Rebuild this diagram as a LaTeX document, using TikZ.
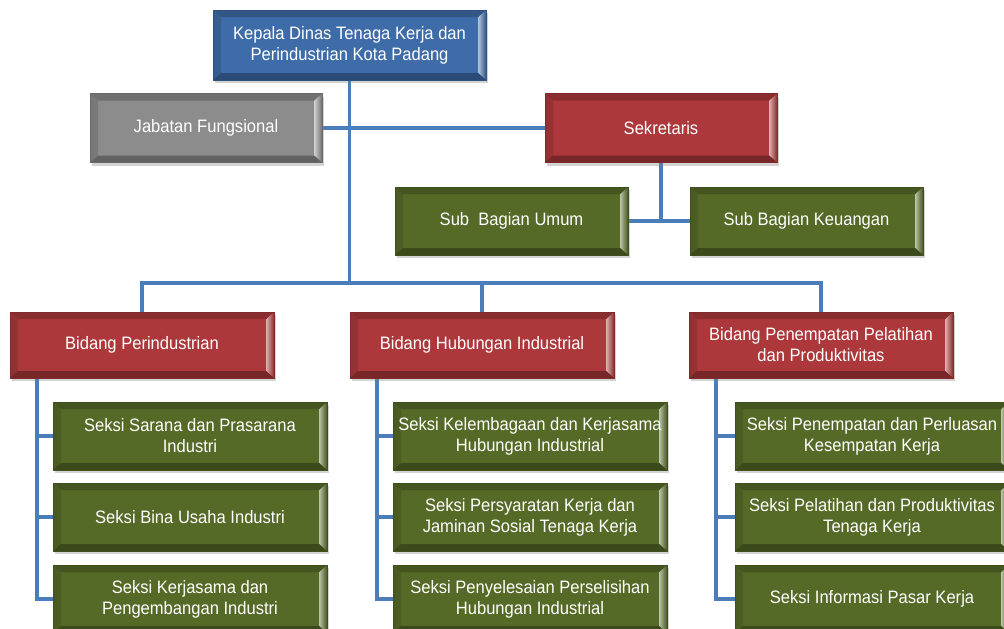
\documentclass[tikz,border=0pt]{standalone}
\usepackage{fontspec}
\setmainfont{Liberation Sans}[FakeStretch=0.92]
\usetikzlibrary{shadows,calc}
\definecolor{cblue}{HTML}{3E6CA8}
\definecolor{cgray}{HTML}{8C8C8C}
\definecolor{cred}{HTML}{AC383B}
\definecolor{cgreen}{HTML}{566A27}
\definecolor{linec}{HTML}{4A7DBA}
\newcommand\boxfont{\fontsize{18}{21}\selectfont}
\pgfdeclarelayer{bg}
\pgfsetlayers{bg,main}
\tikzset{
  conn/.style={draw=linec, line width=3.5pt},
  box/.style={fill=#1, draw=#1!75!black, line width=0.5pt, inner sep=0pt,
    text=white, align=center, font=\boxfont,
    drop shadow={shadow xshift=1.5pt, shadow yshift=-3pt, opacity=0.35},
    path picture={
      \shade[left color=#1!85!black, right color=#1!35!white]
        (path picture bounding box.north west) -- (path picture bounding box.south west)
        -- ([xshift=8pt,yshift=7pt]path picture bounding box.south west)
        -- ([xshift=8pt,yshift=-7pt]path picture bounding box.north west) -- cycle;
      \shade[left color=#1!40!white, right color=#1!80!black]
        (path picture bounding box.north east) -- (path picture bounding box.south east)
        -- ([xshift=-8pt,yshift=7pt]path picture bounding box.south east)
        -- ([xshift=-8pt,yshift=-7pt]path picture bounding box.north east) -- cycle;
      \fill[#1!80!black]
        (path picture bounding box.north west) -- (path picture bounding box.north east)
        -- ([xshift=-8pt,yshift=-7pt]path picture bounding box.north east)
        -- ([xshift=8pt,yshift=-7pt]path picture bounding box.north west) -- cycle;
      \fill[#1!70!black]
        (path picture bounding box.south west) -- (path picture bounding box.south east)
        -- ([xshift=-8pt,yshift=7pt]path picture bounding box.south east)
        -- ([xshift=8pt,yshift=7pt]path picture bounding box.south west) -- cycle;
    }},
  topbox/.style={box=cblue, minimum width=273pt, minimum height=70pt},
  sidebox/.style={box=#1, minimum width=232pt, minimum height=69pt},
  subbox/.style={box=cgreen, minimum width=233pt, minimum height=68pt},
  bidbox/.style={box=cred, minimum width=264pt, minimum height=66pt},
  seksibox/.style={box=cgreen, minimum width=274pt, minimum height=68pt},
}
\begin{document}
\begin{tikzpicture}[x=1pt,y=-1pt]
\useasboundingbox (0,0) rectangle (1004,629);

\node[topbox] (head) at (349.5,45) {Kepala Dinas Tenaga Kerja dan\\Perindustrian Kota Padang};
\node[sidebox=cgray] (jf) at (206,128) {Jabatan Fungsional};
\node[sidebox=cred] (sek) at (661,128) {Sekretaris};
\node[subbox] (sbu) at (511.5,221) {Sub\ \ Bagian Umum};
\node[subbox] (sbk) at (806.5,221) {Sub Bagian Keuangan};

\node[bidbox] (b1) at (142,345) {Bidang Perindustrian};
\node[bidbox] (b2) at (482,345) {Bidang Hubungan Industrial};
\node[bidbox] (b3) at (821,345) {Bidang Penempatan Pelatihan\\dan Produktivitas};

\node[seksibox] (g11) at (190,436) {Seksi Sarana dan Prasarana\\Industri};
\node[seksibox] (g12) at (190,517) {Seksi Bina Usaha Industri};
\node[seksibox] (g13) at (190,599) {Seksi Kerjasama dan\\Pengembangan Industri};

\node[seksibox] (g21) at (530,436) {Seksi Kelembagaan dan Kerjasama\\Hubungan Industrial};
\node[seksibox] (g22) at (530,517) {Seksi Persyaratan Kerja dan\\Jaminan Sosial Tenaga Kerja};
\node[seksibox] (g23) at (530,599) {Seksi Penyelesaian Perselisihan\\Hubungan Industrial};

\node[seksibox] (g31) at (872,436) {Seksi Penempatan dan Perluasan\\Kesempatan Kerja};
\node[seksibox] (g32) at (872,517) {Seksi Pelatihan dan Produktivitas\\Tenaga Kerja};
\node[seksibox] (g33) at (872,599) {Seksi Informasi Pasar Kerja};

\coordinate (hub) at (349.5,283);
\coordinate (k1) at ($(b1.south west)+(27pt,0)$);
\coordinate (k2) at ($(b2.south west)+(27pt,0)$);
\coordinate (k3) at ($(b3.south west)+(27pt,0)$);

\begin{pgfonlayer}{bg}
\draw[conn] (head.south) -- (hub);
\draw[conn] (b1.north) |- (hub) -| (b3.north);
\draw[conn] (b2.north) -- (b2.north |- hub);
\draw[conn] (jf.east) -- (sek.west);
\draw[conn] (sek.south) -- (sek.south |- sbu.east);
\draw[conn] (sbu.east) -- (sbk.west);
\draw[conn] (k1) |- (g13.west);
\draw[conn] (k1 |- g11.west) -- (g11.west);
\draw[conn] (k1 |- g12.west) -- (g12.west);
\draw[conn] (k2) |- (g23.west);
\draw[conn] (k2 |- g21.west) -- (g21.west);
\draw[conn] (k2 |- g22.west) -- (g22.west);
\draw[conn] (k3) |- (g33.west);
\draw[conn] (k3 |- g31.west) -- (g31.west);
\draw[conn] (k3 |- g32.west) -- (g32.west);
\end{pgfonlayer}
\end{tikzpicture}
\end{document}
